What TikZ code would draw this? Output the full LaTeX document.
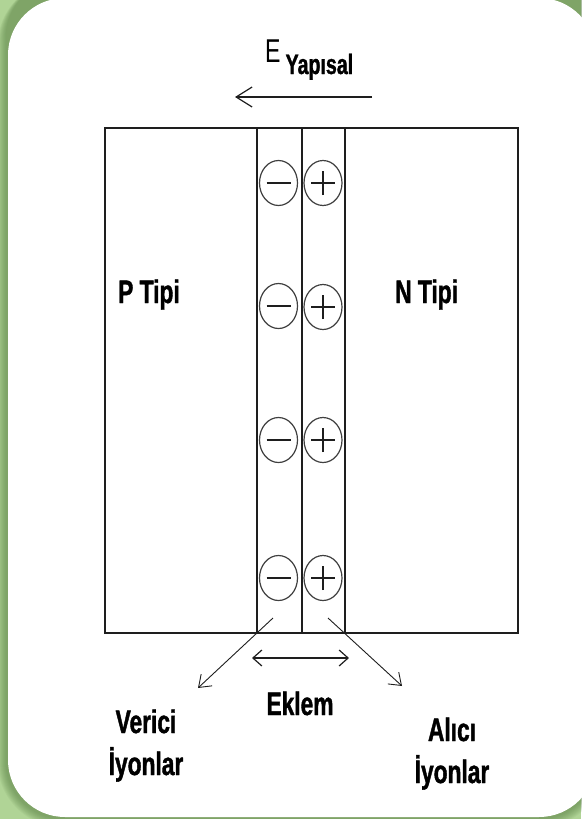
\documentclass[tikz,border=0pt]{standalone}
\usepackage{fontspec}
\setmainfont{Liberation Sans}
\newfontfamily\narrow[FakeStretch=0.7]{Liberation Sans}
\newfontfamily\narrowbold[FakeStretch=0.7,FakeBold=1.2]{Liberation Sans Bold}
\usetikzlibrary{arrows.meta,shapes.geometric}

\definecolor{bggreen}{RGB}{176,212,150}
\definecolor{shadegreen}{RGB}{80,120,60}
\definecolor{inkline}{RGB}{30,30,30}

\begin{document}
\begin{tikzpicture}[x=1pt,y=-1pt,
  lbl/.style={font=\narrowbold\fontsize{32.5}{42}\selectfont, inner sep=0pt, align=center},
  ion/.style={ellipse, draw=inkline!85, line width=1.2pt, minimum width=38pt, minimum height=45pt, inner sep=0pt},
  minusion/.style={ion, path picture={\draw[inkline, line width=1.3pt]
      ([xshift=-12pt]path picture bounding box.center) -- ([xshift=12pt]path picture bounding box.center);}},
  plusion/.style={ion, path picture={\draw[inkline, line width=1.3pt]
      ([xshift=-12pt]path picture bounding box.center) -- ([xshift=12pt]path picture bounding box.center)
      ([yshift=-12pt]path picture bounding box.center) -- ([yshift=12pt]path picture bounding box.center);}},
  fieldarrow/.style={inkline, line width=1.8pt, -{Straight Barb[length=16pt,width=20pt,line width=1.2pt]}},
  pointer/.style={inkline, line width=0.9pt, -{Straight Barb[length=11pt,width=16pt,line width=0.9pt]}},
  span/.style={inkline, line width=1.8pt, {Straight Barb[length=9pt,width=16pt,line width=1.2pt]}-{Straight Barb[length=9pt,width=16pt,line width=1.2pt]}}
]
\useasboundingbox (0,0) rectangle (581,819);

% slide background with a soft shadow under the panel
\fill[bggreen] (0,0) rectangle (581,819);
\foreach \k in {1,...,9}{
  \fill[shadegreen, opacity=0.07, rounded corners=57pt+\k pt] (8-\k-1.5,-20) rectangle (596+\k,817+\k+1.5);
}
\fill[white, rounded corners=57pt] (8,-2) rectangle (596,817);

% P-N crystal with the depletion strip
\draw[inkline, line width=2pt] (105,128) rectangle (518,633);
\draw[inkline, line width=1.5pt] (257,128) -- (257,633);
\draw[inkline, line width=1.5pt] (302,128) -- (302,633);
\draw[inkline, line width=1.5pt] (345,128) -- (345,633);

% fixed ions in the junction
\node[minusion] (m1) at (278.5,183) {};
\node[plusion]  (p1) at (323,183) {};
\node[minusion] (m2) at (278.5,306) {};
\node[plusion]  (p2) at (323,307) {};
\node[minusion] (m3) at (278.5,440) {};
\node[plusion]  (p3) at (323,440) {};
\node[minusion] (m4) at (278.5,578) {};
\node[plusion]  (p4) at (323,578) {};

% region names
\node[lbl, anchor=base west] (ptip) at (118,303) {P Tipi};
\node[lbl, anchor=base west] (ntip) at (395,303) {N Tipi};

% built-in field
\node[inner sep=0pt, anchor=base west] (efield) at (265,62)
  {\narrow\fontsize{33}{33}\selectfont E\hspace{5pt}\raisebox{-12pt}{\narrowbold\fontsize{28}{28}\selectfont Yapısal}};
\coordinate (fstart) at (372,97);
\coordinate (fend) at (235,97);
\draw[fieldarrow] (fstart) -- (fend);

% junction width
\coordinate (jl) at (252,658);
\coordinate (jr) at (349,658);
\draw[span] (jl) -- (jr);
\node[lbl, anchor=base] (eklem) at (300,715) {Eklem};

% ion pointers
\coordinate (vstart) at (273,618);
\coordinate (vend) at (198,688);
\coordinate (astart) at (328,618);
\coordinate (aend) at (402,686);
\draw[pointer] (vstart) -- (vend);
\draw[pointer] (astart) -- (aend);
\node[lbl, anchor=base] (verici) at (146,775) {Verici\\İyonlar};
\node[lbl, anchor=base] (alici) at (452,783) {Alıcı\\İyonlar};
\end{tikzpicture}
\end{document}
